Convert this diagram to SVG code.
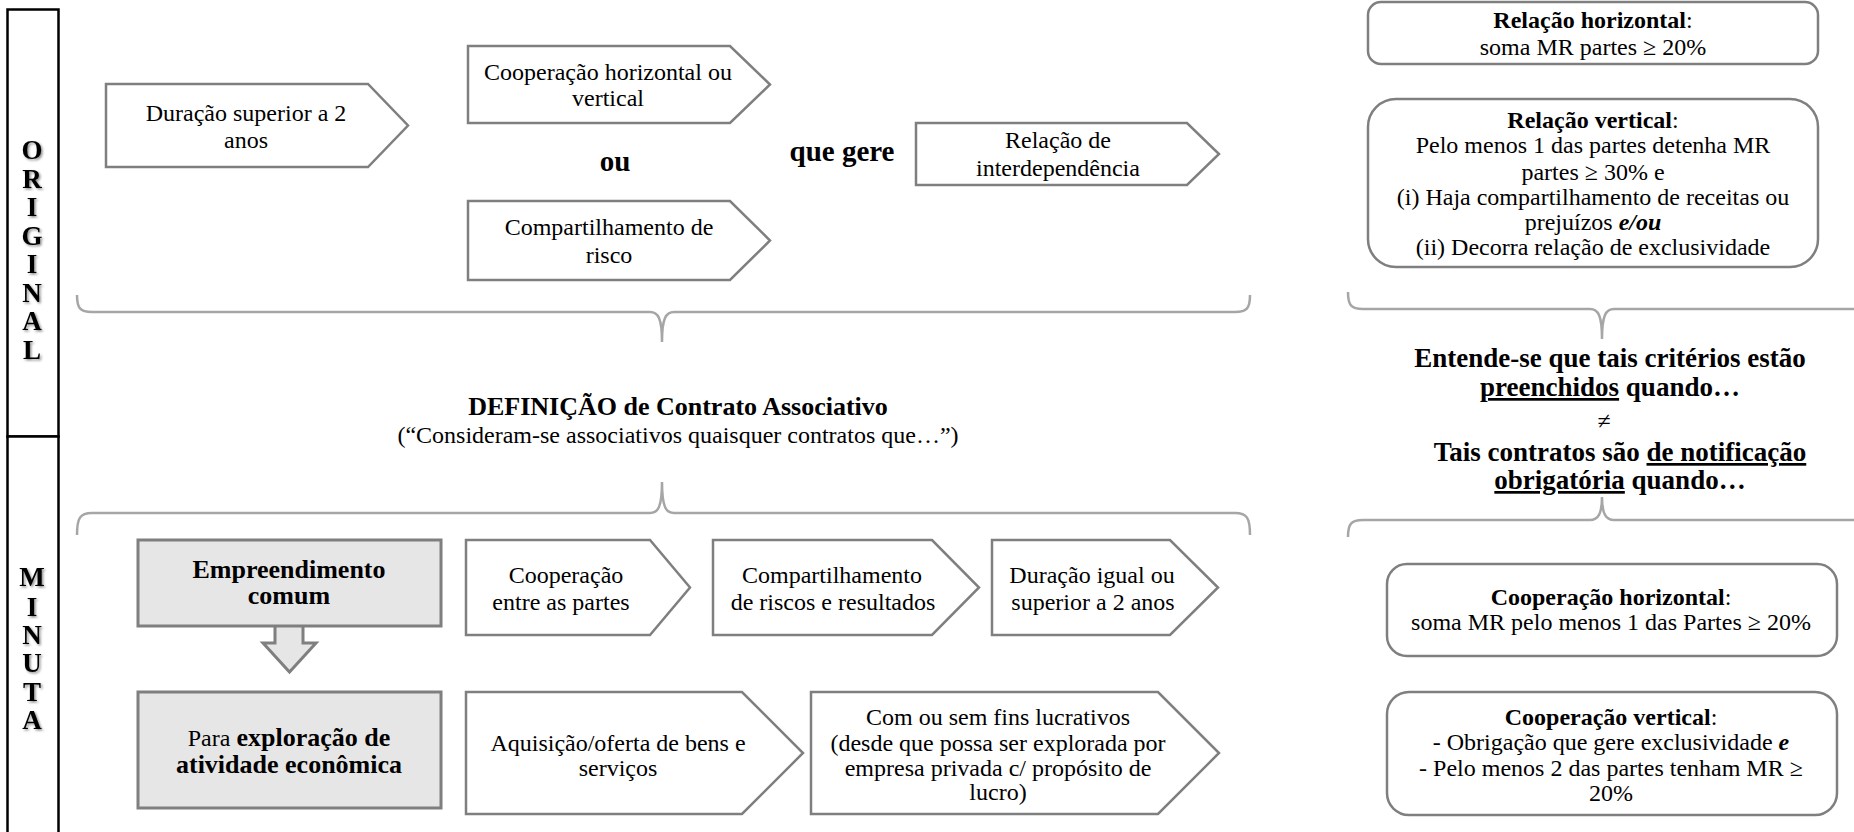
<svg xmlns="http://www.w3.org/2000/svg" width="1854" height="832" viewBox="0 0 1854 832">
<defs>
<style>
text{font-family:"Liberation Serif","Times New Roman",serif;fill:#000;}
.t{font-size:24px;text-anchor:middle;}
.b{font-weight:bold;}
.tb{font-size:26px;font-weight:bold;text-anchor:middle;}
.big{font-size:29px;font-weight:bold;text-anchor:middle;}
.rb{font-size:27px;font-weight:bold;text-anchor:middle;}
.lt{font-size:27px;font-weight:bold;text-anchor:middle;filter:url(#sh);}
.shape{fill:#fff;stroke:#7f7f7f;stroke-width:2.5;stroke-linejoin:miter;}
.gray{fill:#e7e6e6;stroke:#7f7f7f;stroke-width:3;}
.rbox{fill:#fff;stroke:#7f7f7f;stroke-width:2.5;}
.brace{fill:none;stroke:#a6a6a6;stroke-width:2.5;}
.side{fill:#fff;stroke:#000;stroke-width:2.5;}
</style>
<filter id="sh" x="-30%" y="-30%" width="160%" height="160%">
<feDropShadow dx="1.5" dy="1.5" stdDeviation="1" flood-color="#000" flood-opacity="0.45"/>
</filter>
</defs>
<rect width="1854" height="832" fill="#fff"/>

<g id="label-original">
<rect class="side" x="7.5" y="9.5" width="51" height="427"/>
<text class="lt" x="32" y="159">O</text>
<text class="lt" x="32" y="188">R</text>
<text class="lt" x="32" y="216">I</text>
<text class="lt" x="32" y="245">G</text>
<text class="lt" x="32" y="273">I</text>
<text class="lt" x="32" y="302">N</text>
<text class="lt" x="32" y="330">A</text>
<text class="lt" x="32" y="359">L</text>
</g>
<g id="label-minuta">
<rect class="side" x="7.5" y="436.5" width="51" height="410"/>
<text class="lt" x="32" y="586">M</text>
<text class="lt" x="32" y="616">I</text>
<text class="lt" x="32" y="644">N</text>
<text class="lt" x="32" y="672">U</text>
<text class="lt" x="32" y="701">T</text>
<text class="lt" x="32" y="729">A</text>
</g>

<g id="connectors">
<path class="brace" d="M77 295 C77 308 80 312 92 312 H650 C658 312 662 318 662 342 C662 318 666 312 674 312 H1235 C1247 312 1250 308 1250 295"/>
<path class="brace" d="M77 535 C77 518 80 513 92 513 H650 C658 513 662 507 662 482 C662 507 666 513 674 513 H1235 C1247 513 1250 518 1250 535"/>
<path class="brace" d="M1348 292 C1348 305 1351 309 1363 309 H1590 C1598 309 1602 315 1602 339 C1602 315 1606 309 1614 309 H1860"/>
<path class="brace" d="M1348 537 C1348 524 1351 520 1363 520 H1590 C1598 520 1602 514 1602 497 C1602 514 1606 520 1614 520 H1860"/>
<path class="gray" d="M275 626 V643 H263 L289.5 672 L316 643 H303 V626"/>
</g>

<g id="o-duracao">
<path class="shape" d="M106 84 H368 L408 125.5 L368 167 H106 Z"/>
<text class="t" x="246" y="121">Duração superior a 2</text>
<text class="t" x="246" y="148">anos</text>
</g>
<g id="o-cooperacao">
<path class="shape" d="M468 46 H730 L770 84.5 L730 123 H468 Z"/>
<text class="t" x="608" y="80">Cooperação horizontal ou</text>
<text class="t" x="608" y="106">vertical</text>
</g>
<g id="o-ou">
<text class="big" x="615" y="171">ou</text>
</g>
<g id="o-compartilhamento">
<path class="shape" d="M468 201 H730 L770 240.5 L730 280 H468 Z"/>
<text class="t" x="609" y="235">Compartilhamento de</text>
<text class="t" x="609" y="263">risco</text>
</g>
<g id="o-que-gere">
<text class="big" x="842" y="161">que gere</text>
</g>
<g id="o-interdependencia">
<path class="shape" d="M916 123 H1187 L1219 154 L1187 185 H916 Z"/>
<text class="t" x="1058" y="148">Relação de</text>
<text class="t" x="1058" y="176">interdependência</text>
</g>

<g id="definicao">
<text class="tb" x="678" y="415">DEFINIÇÃO de Contrato Associativo</text>
<text class="t" x="678" y="443">(“Consideram-se associativos quaisquer contratos que…”)</text>
</g>

<g id="r-horizontal">
<rect class="rbox" x="1368" y="2" width="450" height="62" rx="13"/>
<text class="t" x="1593" y="28"><tspan class="b">Relação horizontal</tspan>:</text>
<text class="t" x="1593" y="55">soma MR partes ≥ 20%</text>
</g>
<g id="r-vertical">
<rect class="rbox" x="1368" y="99" width="450" height="168" rx="28"/>
<text class="t" x="1593" y="128"><tspan class="b">Relação vertical</tspan>:</text>
<text class="t" x="1593" y="153">Pelo menos 1 das partes detenha MR</text>
<text class="t" x="1593" y="180">partes ≥ 30% e</text>
<text class="t" x="1593" y="205">(i) Haja compartilhamento de receitas ou</text>
<text class="t" x="1593" y="230">prejuízos <tspan class="b" font-style="italic">e/ou</tspan></text>
<text class="t" x="1593" y="255">(ii) Decorra relação de exclusividade</text>
</g>

<g id="criterios">
<text class="rb" x="1610" y="367">Entende-se que tais critérios estão</text>
<text class="rb" x="1610" y="396"><tspan text-decoration="underline">preenchidos</tspan> quando…</text>
<text class="t" x="1604" y="429" style="font-size:24px">≠</text>
<text class="rb" x="1620" y="461">Tais contratos são <tspan text-decoration="underline">de notificação</tspan></text>
<text class="rb" x="1620" y="489"><tspan text-decoration="underline">obrigatória</tspan> quando…</text>
</g>

<g id="m-empreendimento">
<rect class="gray" x="138" y="540" width="303" height="86"/>
<text class="tb" x="289" y="578">Empreendimento</text>
<text class="tb" x="289" y="604">comum</text>
</g>
<g id="m-exploracao">
<rect class="gray" x="138" y="692" width="303" height="116"/>
<text class="t" x="289" y="746">Para <tspan class="b" style="font-size:26px">exploração de</tspan></text>
<text class="tb" x="289" y="773">atividade econômica</text>
</g>
<g id="m-cooperacao">
<path class="shape" d="M466 540 H650 L690 587.5 L650 635 H466 Z"/>
<text class="t" x="566" y="583">Cooperação</text>
<text class="t" x="561" y="610">entre as partes</text>
</g>
<g id="m-compartilhamento">
<path class="shape" d="M713 540 H932 L979 587.5 L932 635 H713 Z"/>
<text class="t" x="832" y="583">Compartilhamento</text>
<text class="t" x="833" y="610">de riscos e resultados</text>
</g>
<g id="m-duracao">
<path class="shape" d="M992 540 H1170 L1218 587.5 L1170 635 H992 Z"/>
<text class="t" x="1092" y="583">Duração igual ou</text>
<text class="t" x="1093" y="610">superior a 2 anos</text>
</g>
<g id="m-aquisicao">
<path class="shape" d="M466 692 H742 L803 753 L742 814 H466 Z"/>
<text class="t" x="618" y="751">Aquisição/oferta de bens e</text>
<text class="t" x="618" y="776">serviços</text>
</g>
<g id="m-lucrativos">
<path class="shape" d="M811 692 H1158 L1219 753 L1158 814 H811 Z"/>
<text class="t" x="998" y="725">Com ou sem fins lucrativos</text>
<text class="t" x="998" y="751">(desde que possa ser explorada por</text>
<text class="t" x="998" y="776">empresa privada c/ propósito de</text>
<text class="t" x="998" y="800">lucro)</text>
</g>

<g id="c-horizontal">
<rect class="rbox" x="1387" y="564" width="450" height="92" rx="20"/>
<text class="t" x="1611" y="605"><tspan class="b">Cooperação horizontal</tspan>:</text>
<text class="t" x="1611" y="630">soma MR pelo menos 1 das Partes ≥ 20%</text>
</g>
<g id="c-vertical">
<rect class="rbox" x="1387" y="692" width="450" height="123" rx="22"/>
<text class="t" x="1611" y="725"><tspan class="b">Cooperação vertical</tspan>:</text>
<text class="t" x="1611" y="750">- Obrigação que gere exclusividade <tspan class="b" font-style="italic">e</tspan></text>
<text class="t" x="1611" y="776">- Pelo menos 2 das partes tenham MR ≥</text>
<text class="t" x="1611" y="801">20%</text>
</g>
</svg>
